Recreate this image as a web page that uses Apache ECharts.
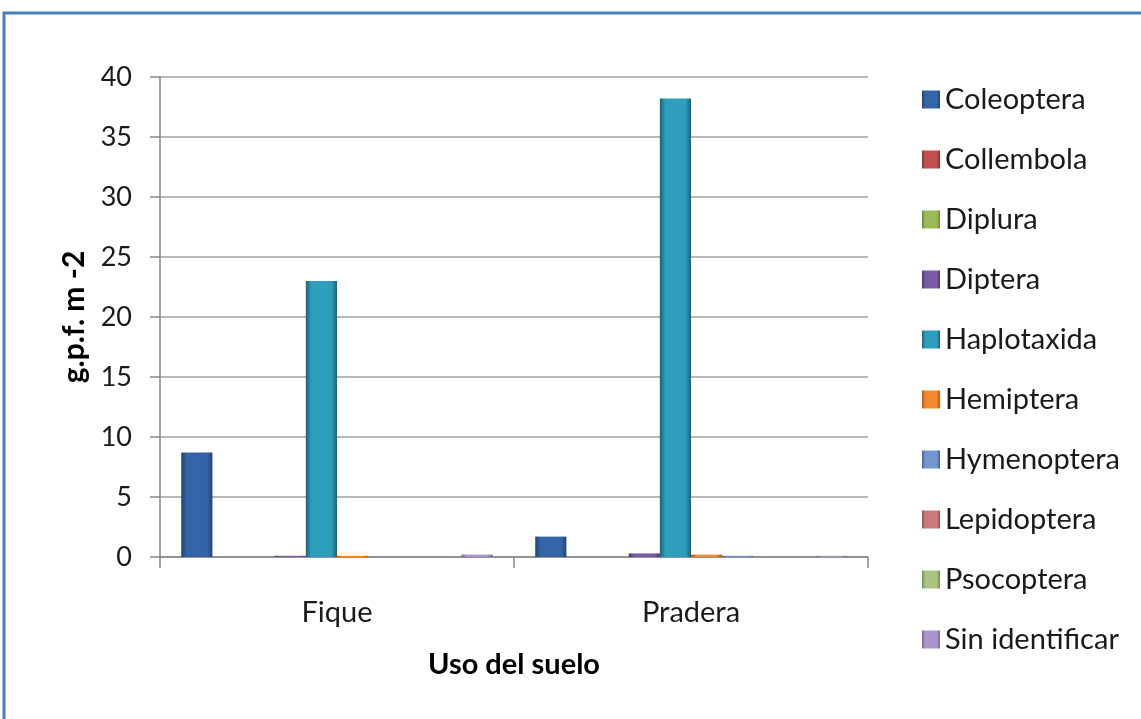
<!DOCTYPE html>
<html>
<head>
<meta charset="utf-8">
<script src="https://cdn.jsdelivr.net/npm/echarts@6/dist/echarts.min.js"></script>
<style>
  html, body { margin: 0; padding: 0; background: #fff; }
  #chart { width: 1141px; height: 719px; }
</style>
</head>
<body>
<div id="chart"></div>
<script>
const categories = ['Fique', 'Pradera']
const seriesNames = ['Coleoptera', 'Collembola', 'Diplura', 'Diptera', 'Haplotaxida',
  'Hemiptera', 'Hymenoptera', 'Lepidoptera', 'Psocoptera', 'Sin identificar']

const coleoptera = [8.7, 1.7]
const collembola = [0, 0]
const diplura = [0, 0]
const diptera = [0.1, 0.3]
const haplotaxida = [23, 38.2]
const hemiptera = [0.1, 0.2]
const hymenoptera = [0, 0.1]
const lepidoptera = [0, 0]
const psocoptera = [0, 0]
const sinIdentificar = [0.2, 0.1]

const seriesValues = [coleoptera, collembola, diplura, diptera, haplotaxida,
  hemiptera, hymenoptera, lepidoptera, psocoptera, sinIdentificar]

// [edge, center] colours, bevel look
const palette = [
  ['#1f4475', '#3465a8'],
  ['#8e2f2c', '#c0504d'],
  ['#6b8a34', '#9bbb59'],
  ['#4b376f', '#7a5ca2'],
  ['#1a6479', '#2d9fbd'],
  ['#b3590f', '#f28a2e'],
  ['#44659a', '#7396cc'],
  ['#965150', '#c97a79'],
  ['#75904f', '#a9c47f'],
  ['#7565a0', '#a896cc']
]

const bevel = (c) => new echarts.graphic.LinearGradient(0, 0, 1, 0, [
  { offset: 0, color: c[0] },
  { offset: 0.18, color: c[1] },
  { offset: 0.82, color: c[1] },
  { offset: 1, color: c[0] }
])

const font = 'Lato, "Open Sans", sans-serif'

const chart = echarts.init(document.getElementById('chart'))
chart.setOption({
  animation: false,
  graphic: [{
    type: 'rect',
    shape: { x: 4, y: 13, width: 1300, height: 900 },
    style: { fill: 'none', stroke: '#4a7ebb', lineWidth: 3 },
    silent: true
  }],
  grid: { left: 160, right: 273, top: 77, bottom: 162 },
  legend: {
    orient: 'vertical',
    left: 917,
    top: 80,
    itemWidth: 18,
    itemHeight: 18,
    itemGap: 31,
    icon: 'rect',
    textStyle: { fontFamily: font, fontSize: 29, color: '#1a1a1a' },
    data: seriesNames
  },
  xAxis: {
    type: 'category',
    data: categories,
    name: 'Uso del suelo',
    nameLocation: 'middle',
    nameGap: 93,
    nameTextStyle: { fontFamily: font, fontSize: 29, fontWeight: 'bold', color: '#000' },
    axisLine: { lineStyle: { color: '#868686', width: 1.5 } },
    axisTick: { show: true, length: 11, lineStyle: { color: '#868686', width: 1.5 } },
    axisLabel: { fontFamily: font, fontSize: 29, color: '#1a1a1a', margin: 41 }
  },
  yAxis: {
    type: 'value',
    min: 0,
    max: 40,
    interval: 5,
    name: 'g.p.f. m -2',
    nameLocation: 'middle',
    nameGap: 71,
    nameTextStyle: { fontFamily: font, fontSize: 30, fontWeight: 'bold', color: '#000' },
    axisLine: { show: true, lineStyle: { color: '#868686', width: 1.5 } },
    axisTick: { show: true, length: 10, lineStyle: { color: '#868686', width: 1.5 } },
    axisLabel: { fontFamily: font, fontSize: 27, color: '#1a1a1a', margin: 28 },
    splitLine: { lineStyle: { color: '#a0a0a0', width: 1.5 } }
  },
  series: seriesNames.map((name, i) => ({
    name,
    type: 'bar',
    data: seriesValues[i],
    barGap: '0%',
    barCategoryGap: '12%',
    itemStyle: { color: bevel(palette[i]) }
  }))
})
</script>
</body>
</html>
